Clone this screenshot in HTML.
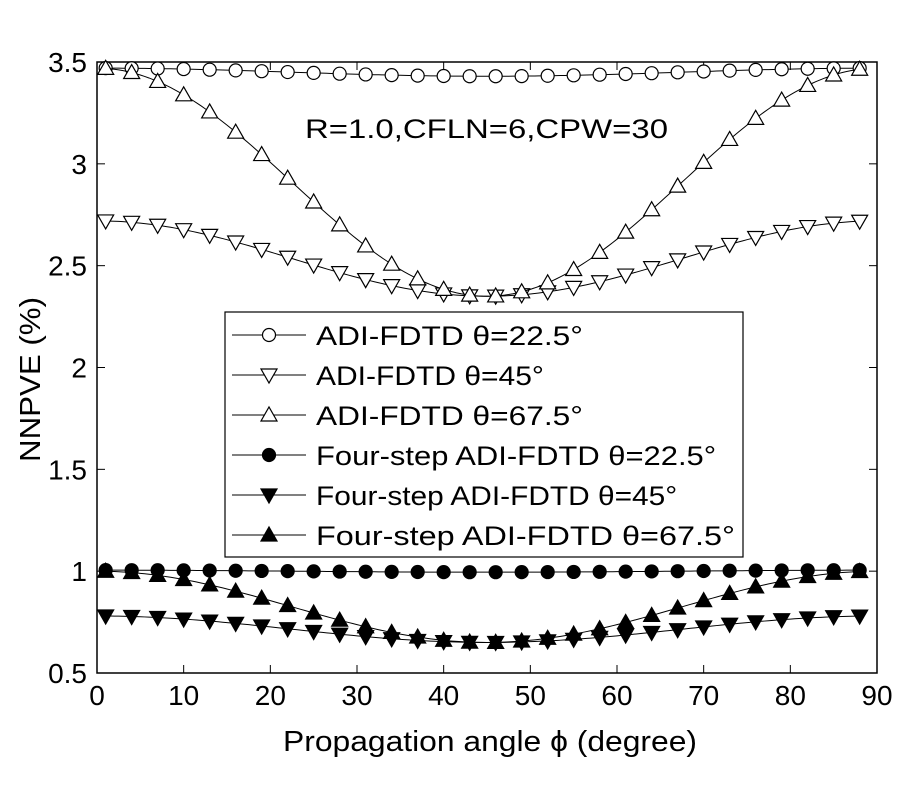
<!DOCTYPE html>
<html><head><meta charset="utf-8"><style>
html,body{margin:0;padding:0;background:#fff;}
svg text{font-family:"Liberation Sans",Arial,sans-serif;fill:#000;}
</style></head><body>
<svg id="s" width="900" height="800" xmlns="http://www.w3.org/2000/svg">
<rect x="97" y="62" width="780" height="611" fill="#fff" stroke="#000" stroke-width="1.5"/>
</svg>
<script>
var s=document.getElementById('s'),NS='http://www.w3.org/2000/svg';
function el(t,a,txt){var e=document.createElementNS(NS,t);for(var k in a)e.setAttribute(k,a[k]);if(txt!=null)e.textContent=txt;s.appendChild(e);return e;}
var L=97,R=877,T=62,B=673;
function X(v){return L+(v/90)*(R-L);}
function Y(v){return B-(v-0.5)/3*(B-T);}
for(var i=0;i<=9;i++){var x=X(i*10);el('line',{x1:x,y1:B,x2:x,y2:B-8,stroke:'#000'});el('line',{x1:x,y1:T,x2:x,y2:T+8,stroke:'#000'});
el('text',{x:x,y:B+32,'font-size':28,'text-anchor':'middle'},String(i*10));}
for(var j=0;j<=6;j++){var v=0.5+j*0.5,y=Y(v);el('line',{x1:L,y1:y,x2:L+8,y2:y,stroke:'#000'});el('line',{x1:R,y1:y,x2:R-8,y2:y,stroke:'#000'});
el('text',{x:L-10,y:y+10,'font-size':28,'text-anchor':'end'},String(v));}
el('text',{x:283,y:751,'font-size':29,textLength:414,lengthAdjust:'spacingAndGlyphs'},'Propagation angle \u03d5 (degree)');
el('text',{x:0,y:0,'font-size':29,textLength:165,lengthAdjust:'spacingAndGlyphs',transform:'translate(40,462) rotate(-90)'},'NNPVE (%)');
el('text',{x:305,y:138,'font-size':27,textLength:363,lengthAdjust:'spacingAndGlyphs'},'R=1.0,CFLN=6,CPW=30');
function mk(x,y,type,fill){var f=fill?'#000':'#fff';
 if(type=='o')el('circle',{cx:x,cy:y,r:6.5,fill:f,stroke:'#000','stroke-width':1.2});
 else if(type=='v')el('polygon',{points:(x-8)+','+(y-6)+' '+(x+8)+','+(y-6)+' '+x+','+(y+8),fill:f,stroke:'#000','stroke-width':1.2});
 else el('polygon',{points:(x-8)+','+(y+6)+' '+(x+8)+','+(y+6)+' '+x+','+(y-8),fill:f,stroke:'#000','stroke-width':1.2});}
var ser=[[3.45,0.02,'o',0],[2.535,0.185,'v',0],[2.91,0.56,'^',0],[1.0,0.005,'o',1],[0.715,0.065,'v',1],[0.825,0.175,'^',1]];
ser.forEach(function(p){var pts=[];for(var a=1;a<=88;a+=0.5){pts.push(X(a)+','+Y(p[0]+p[1]*Math.cos(4*a*Math.PI/180)));}
 el('polyline',{points:pts.join(' '),fill:'none',stroke:'#000','stroke-width':1});
 for(var a=1;a<=88;a+=3)mk(X(a),Y(p[0]+p[1]*Math.cos(4*a*Math.PI/180)),p[2],p[3]);});
el('rect',{x:225,y:312,width:518,height:245,fill:'#fff',stroke:'#000','stroke-width':1.2});
var labs=['ADI-FDTD \u03b8=22.5\u00b0','ADI-FDTD \u03b8=45\u00b0','ADI-FDTD \u03b8=67.5\u00b0','Four-step ADI-FDTD \u03b8=22.5\u00b0','Four-step ADI-FDTD \u03b8=45\u00b0','Four-step ADI-FDTD \u03b8=67.5\u00b0'];
var lens=[267,228,267,0,0,419];
labs.forEach(function(t,i){var y=335+i*40;el('line',{x1:232,y1:y,x2:306,y2:y,stroke:'#000'});mk(269,y,ser[i][2],ser[i][3]);
 var a={x:316,y:y+10,'font-size':27};
 var w=[0.637,0.544,0.637,0.955,0.862,1.0][i]*419;a.textLength=w;a.lengthAdjust='spacingAndGlyphs';
 el('text',a,t);});
</script>
</body></html>
